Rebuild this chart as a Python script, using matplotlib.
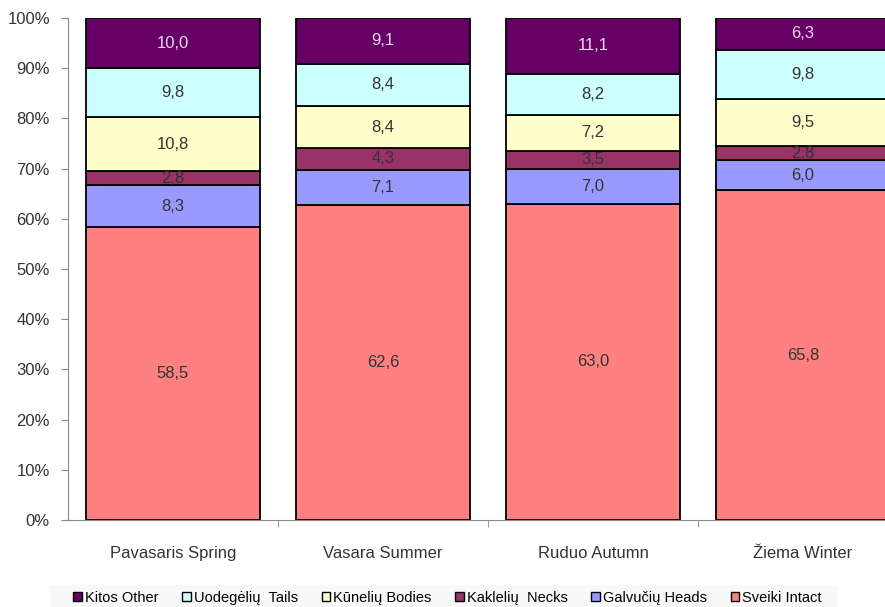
import matplotlib.pyplot as plt
import numpy as np
from matplotlib.patches import Rectangle, Patch

plt.rcParams['font.family'] = ['Liberation Sans', 'DejaVu Sans']

seasons = ["Pavasaris Spring", "Vasara Summer", "Ruduo Autumn", "Žiema Winter"]
intact = [58.5, 62.6, 63.0, 65.8]
heads = [8.3, 7.1, 7.0, 6.0]
necks = [2.8, 4.3, 3.5, 2.8]
bodies = [10.8, 8.4, 7.2, 9.5]
tails = [9.8, 8.4, 8.2, 9.8]
other = [10.0, 9.1, 11.1, 6.3]

series = [
    ("Sveiki Intact", intact, "#FF8080", "#333333"),
    ("Galvučių Heads", heads, "#9999FF", "#333333"),
    ("Kaklelių  Necks", necks, "#993366", "#333333"),
    ("Kūnelių Bodies", bodies, "#FFFFCC", "#333333"),
    ("Uodegėlių  Tails", tails, "#CCFFFF", "#333333"),
    ("Kitos Other", other, "#660066", "#F0D8F0"),
]

W, H = 885, 607
fig = plt.figure(figsize=(W / 100, H / 100), dpi=100)
ax = fig.add_axes([68 / W, (H - 520) / H, 840 / W, 502 / H])

x = np.arange(len(seasons))
totals = np.sum([s[1] for s in series], axis=0)
bottom = np.zeros(len(seasons))
for name, vals, col, tcol in series:
    pct = np.array(vals) / totals * 100
    ax.bar(x, pct, width=0.833, bottom=bottom, color=col, edgecolor="black",
           linewidth=1.3, label=name)
    for xi, b, p, v in zip(x, bottom, pct, vals):
        ax.text(xi, b + p / 2, f"{v:.1f}".replace(".", ","), ha="center",
                va="center", fontsize=12, color=tcol)
    bottom += pct

ax.set_xlim(-0.5, len(seasons) - 0.5)
ax.set_ylim(0, 100)
ax.set_yticks(np.arange(0, 101, 10))
ax.set_yticklabels([f"{v}%" for v in range(0, 101, 10)], fontsize=12, color="#333333")
ax.set_xticks(x)
ax.set_xticklabels(seasons, fontsize=12, color="#333333")
ax.tick_params(axis="x", length=0, pad=19)
ax.set_xticks(np.arange(0.5, len(seasons) - 0.5, 1), minor=True)
ax.tick_params(axis="x", which="minor", length=5, color="#888888", direction="out")
ax.tick_params(axis="y", length=5, color="#888888", direction="out", pad=8)
for s in ["top", "right"]:
    ax.spines[s].set_visible(False)
ax.spines["left"].set_color("#888888")
ax.spines["bottom"].set_color("#888888")

# legend background
fig.patches.append(Rectangle((50 / W, 0), (837 - 50) / W, (H - 585) / H,
                             transform=fig.transFigure, facecolor="#F8F8F8",
                             edgecolor="none", zorder=0))
handles = [Patch(facecolor=c, edgecolor="black", linewidth=1.0, label=n)
           for n, v, c, t in reversed(series)]
fig.legend(handles=handles, loc="center left", bbox_to_anchor=(66 / W, 1 - 598 / H),
           ncol=6, frameon=False, fontsize=10.5, handlelength=0.6, handleheight=0.6,
           handletextpad=0.2, columnspacing=1.62, borderpad=0)

fig.savefig("out.png", dpi=100)
